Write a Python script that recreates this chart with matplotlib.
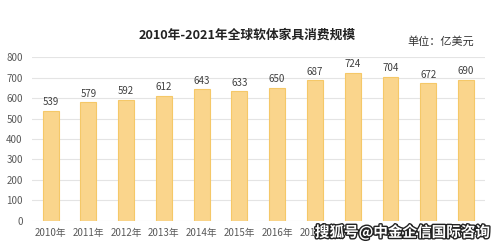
# 2010-2021 global soft furniture consumption, bar chart
import matplotlib.pyplot as plt
import matplotlib.patheffects as pe

plt.rcParams['font.family'] = ['Noto Sans CJK SC', 'DejaVu Sans']

years = ['2010年', '2011年', '2012年', '2013年', '2014年', '2015年',
         '2016年', '2017年', '2018年', '2019年', '2020年', '2021年']
values = [539, 579, 592, 612, 643, 633, 650, 687, 724, 704, 672, 690]
yticks = [0, 100, 200, 300, 400, 500, 600, 700, 800]

fig = plt.figure(figsize=(5.04, 2.46), dpi=100)
ax = fig.add_axes([0.063, 0.102, 0.899, 0.666])

x = range(len(years))
ax.bar(x, values, width=0.42, color='#FAD58C', edgecolor='#F5C868', linewidth=0.8, zorder=2)
for xi, v in zip(x, values):
    ax.text(xi, v + 18, str(v), ha='center', va='bottom', fontsize=7, color='#404040')

ax.set_xlim(-0.5, 11.5)
ax.set_ylim(0, 800)
ax.set_yticks(yticks)
ax.set_xticks(list(x))
ax.set_xticklabels(years)
ax.grid(axis='y', color='#E4E4E4', linewidth=0.8, zorder=0)
for s in ax.spines.values():
    s.set_visible(False)
ax.tick_params(axis='both', length=0, labelsize=7, labelcolor='#595959')
ax.tick_params(axis='y', pad=6.5)
ax.tick_params(axis='x', pad=5)

fig.text(0.49, 0.858, '2010年-2021年全球软体家具消费规模', ha='center', va='center',
         fontsize=9.2, fontweight='bold', color='#222222')
fig.text(0.875, 0.83, '单位：亿美元', ha='center', va='center', fontsize=8, color='#333333')

# watermark
fig.text(0.973, 0.055, '搜狐号@中金企信国际咨询', ha='right', va='center', fontsize=10.5,
         fontweight='bold', color='white',
         path_effects=[pe.withStroke(linewidth=2, foreground='#222222')])

fig.savefig('out.png', dpi=100)
